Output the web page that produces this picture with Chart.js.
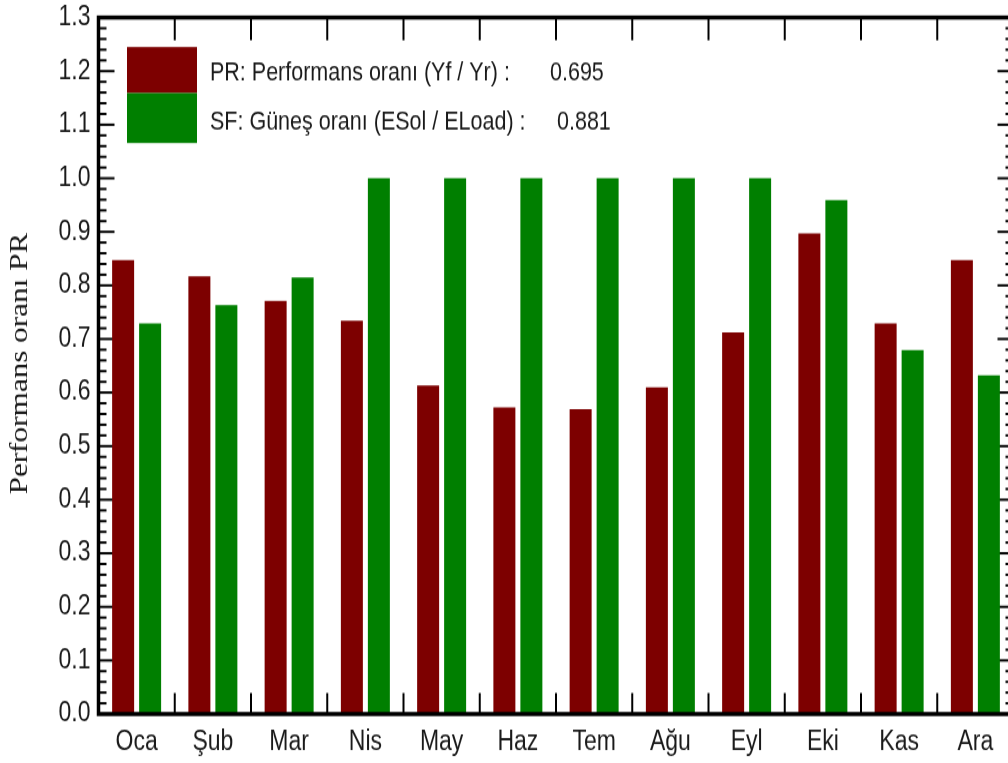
<!DOCTYPE html>
<html>
<head>
<meta charset="utf-8">
<script src="https://cdn.jsdelivr.net/npm/chart.js@4.4.1/dist/chart.umd.min.js"></script>
<style>
  html, body { margin: 0; padding: 0; background: #fff; }
  #page { width: 1008px; height: 763px; overflow: hidden; position: relative; }
  /* the reference is stretched vertically, so the whole chart is too */
  #wrap { position: absolute; left: 0; top: 0; width: 1020px; height: 636px; transform: scaleY(1.2); transform-origin: 0 0; }
</style>
</head>
<body>
<div id="page"><div id="wrap"><canvas id="pr-chart" width="1020" height="636"></canvas></div></div>
<script>
'use strict';

const months = ['Oca', 'Şub', 'Mar', 'Nis', 'May', 'Haz', 'Tem', 'Ağu', 'Eyl', 'Eki', 'Kas', 'Ara'];
const prValues = [0.847, 0.817, 0.771, 0.734, 0.613, 0.572, 0.569, 0.610, 0.712, 0.897, 0.729, 0.847];
const sfValues = [0.729, 0.763, 0.815, 1.0, 1.0, 1.0, 1.0, 1.0, 1.0, 0.959, 0.679, 0.632];
const seriesNames = ['PR: Performans oranı (Yf / Yr) :', 'SF: Güneş oranı (ESol / ELoad) :'];
const seriesTotals = ['0.695', '0.881'];
const yTitle = 'Performans oranı PR';

const sans = '"Liberation Sans", Arial, sans-serif';
const red = '#7d0000';
const green = '#007f00';

const line = function(ctx, x1, y1, x2, y2) {
  ctx.beginPath();
  ctx.moveTo(x1, y1);
  ctx.lineTo(x2, y2);
  ctx.stroke();
};

// tick marks pointing into the plot, drawn under the bars
const tickMarks = {
  id: 'tickMarks',
  beforeDatasetsDraw(chart) {
    const ctx = chart.ctx;
    const a = chart.chartArea;
    const x = chart.scales.x;
    const y = chart.scales.y;
    ctx.save();
    ctx.strokeStyle = '#000';
    ctx.lineWidth = 2;
    for (let i = 0; i <= 65; i++) {
      const py = y.getPixelForValue(i * 0.02);
      const len = i % 5 === 0 ? 16 : 8;
      line(ctx, a.left, py, a.left + len, py);
      line(ctx, a.right, py, a.right - len, py);
    }
    for (let i = 1; i < months.length; i++) {
      const px = (x.getPixelForValue(i - 1) + x.getPixelForValue(i)) / 2;
      line(ctx, px, a.bottom, px, a.bottom - 17.5);
      line(ctx, px, a.top, px, a.top + 19);
    }
    ctx.restore();
  }
};

// frame, legend box and the rotated axis title
const decorations = {
  id: 'decorations',
  afterDatasetsDraw(chart) {
    const ctx = chart.ctx;
    const a = chart.chartArea;
    ctx.save();
    ctx.strokeStyle = '#000';
    ctx.lineWidth = 3.5;
    ctx.strokeRect(a.left, a.top, a.right - a.left, a.bottom - a.top);

    ctx.fillStyle = red;
    ctx.fillRect(127, 39.2, 70, 38.3);
    ctx.fillStyle = green;
    ctx.fillRect(127, 77.5, 70, 41.7);

    ctx.fillStyle = '#1a1a1a';
    ctx.font = '21.5px ' + sans;
    ctx.textBaseline = 'middle';
    ctx.textAlign = 'left';
    ctx.fillText(seriesNames[0], 210, 61);
    ctx.fillText(seriesNames[1], 210, 102.5);
    ctx.fillText(seriesTotals[0], 550, 61);
    ctx.fillText(seriesTotals[1], 557, 102.5);

    ctx.translate(20, 303);
    ctx.rotate(-Math.PI / 2);
    ctx.font = '26px "Liberation Serif", "Times New Roman", serif';
    ctx.textAlign = 'center';
    ctx.fillText(yTitle, 0, 0);
    ctx.restore();
  }
};

const prChart = document.getElementById('pr-chart').getContext('2d');

let myChart = new Chart(prChart, {
  type: 'bar',
  data: {
    labels: months,
    datasets: [{
      label: seriesNames[0],
      data: prValues,
      backgroundColor: red,
      categoryPercentage: 0.708,
      barPercentage: 0.815
    }, {
      label: seriesNames[1],
      data: sfValues,
      backgroundColor: green,
      categoryPercentage: 0.708,
      barPercentage: 0.815
    }]
  },
  options: {
    responsive: false,
    animation: false,
    devicePixelRatio: 1,
    layout: { padding: { top: 14.6, right: 6.5, left: 0, bottom: 0 } },
    plugins: {
      legend: { display: false },
      tooltip: { enabled: false }
    },
    scales: {
      x: {
        grid: { display: false, drawTicks: false },
        border: { display: false },
        ticks: { color: '#1a1a1a', font: { family: sans, size: 23 }, padding: 10 },
        afterFit: function(scale) { scale.height = 41; }
      },
      y: {
        min: 0,
        max: 1.3,
        grid: { display: false, drawTicks: false },
        border: { display: false },
        ticks: {
          stepSize: 0.1,
          color: '#1a1a1a',
          font: { family: sans, size: 23 },
          padding: 8,
          callback: function(v) { return v.toFixed(1); }
        },
        afterFit: function(scale) {
          scale.width = 98.5;
          scale.paddingTop = 0;
          scale.paddingBottom = 0;
        }
      }
    }
  },
  plugins: [tickMarks, decorations]
});
</script>
</body>
</html>
